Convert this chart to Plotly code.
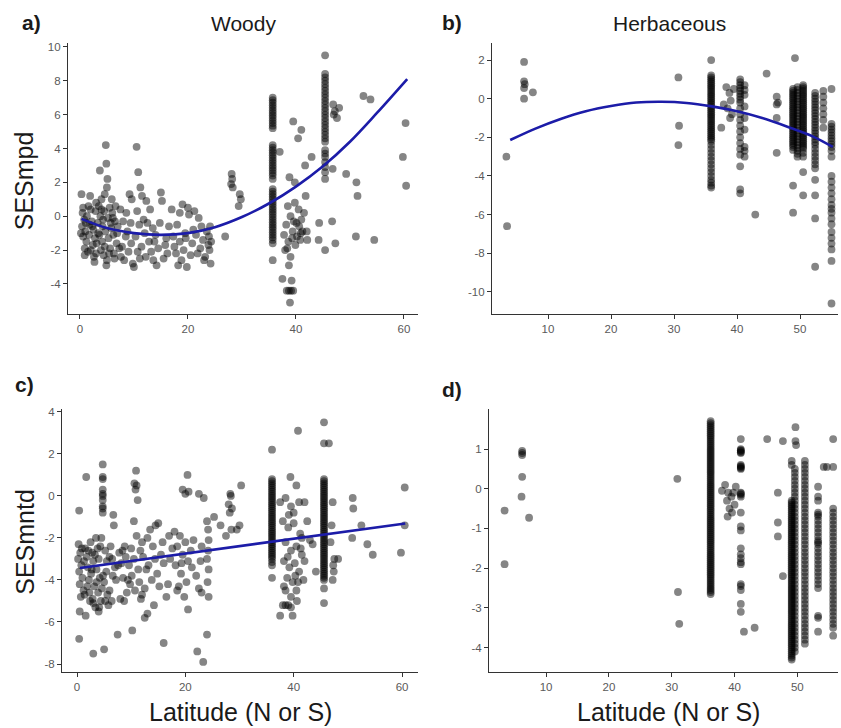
import plotly.graph_objects as go

# ---------------- Panel a: Woody, SESmpd ----------------
a_x = [0.3, 1.9, 0.5, 0.8, 0.4, 1.0, 0.6, 1.2, 0.9, 1.5, 2.0, 2.2, 2.5, 2.8, 2.4, 1.8, 3.0, 2.6, 1.3, 0.2,
       3.7, 4.9, 4.8, 5.1, 5.0, 4.6, 3.5, 4.0, 4.5, 5.5, 6.0, 3.8, 5.2, 6.5, 3.3, 4.2, 5.8, 4.7, 3.6, 6.2,
       5.3, 4.1, 6.8, 5.6, 3.9, 4.4, 6.4, 5.0, 7.0, 6.6,
       7.5, 8.0, 8.5, 7.8, 9.0, 8.2, 9.2, 9.6, 8.8, 9.5,
       10.5, 10.8, 11.2, 11.5, 10.6, 11.0, 10.3, 11.4, 10.7, 11.1, 10.0, 9.8, 11.8,
       15.0, 15.2, 13.0, 12.5, 13.5, 14.0, 12.8, 14.5, 13.2, 15.5, 14.2, 16.0, 16.5, 12.2, 15.8,
       17.0, 19.0, 20.0, 20.2, 18.0, 19.5, 18.5, 17.5, 19.2, 20.5, 18.8, 19.8, 17.8, 20.8, 18.2, 21.0,
       21.2, 22.0, 22.5, 23.5, 22.8, 23.8, 24.0, 23.2, 24.2, 23.9, 21.8,
       26.9, 28.1, 28.2, 28.0, 28.3, 29.6, 29.4, 29.8,
       37.0, 39.5, 40.4, 41.0, 38.8, 39.8, 38.5, 39.0, 39.8, 40.5, 41.0, 38.2, 39.4, 40.2, 38.6, 39.9,
       40.8, 38.0, 39.0, 38.7, 37.5, 39.2, 38.3, 38.7, 39.1, 39.5, 38.9, 40.6, 41.5, 37.8,
       41.7, 42.9, 41.8, 42.0, 42.1, 44.3, 44.2,
       46.9, 47.2, 47.6, 47.0, 46.8, 46.7, 47.3, 48.0,
       49.3, 51.2, 51.4, 51.1, 52.5, 53.8, 54.5,
       59.8, 60.3, 60.4,
       0.6, 1.1, 1.7, 2.3, 2.9, 3.4, 4.3, 5.7, 4.6, 3.1, 2.0, 5.4, 6.9, 7.3, 6.1, 3.0, 4.0, 5.9, 1.6, 0.9,
       2.7, 4.9, 6.3, 7.6, 8.6, 9.4, 12.0, 13.8, 14.8, 16.2, 17.3, 18.5, 19.6, 21.5, 22.3, 23.0, 24.3, 24.1,
       12.3, 13.6, 39.6, 40.9, 38.4, 40.1, 41.2, 39.3]
a_y = [1.3, 1.2, 0.2, -0.2, -0.6, -0.9, -1.2, -1.5, -1.9, -2.1, 0.4, -0.3, -0.8, -1.3, -1.7, -0.5, -2.2, -2.4, 0.0, -1.0,
       2.7, 3.1, 4.2, 2.2, 1.7, 1.3, 0.6, 0.4, 0.3, 0.5, 0.2, 0.0, -0.1, -0.3, -0.4, -0.6, -0.7, -0.9, -1.1, -1.1,
       -1.3, -1.5, -1.6, -1.9, -2.0, -2.3, -2.5, -2.6, -0.6, 0.6,
       0.4, -0.3, -1.2, -1.8, -2.1, -2.6, 1.3, 1.0, -0.9, -1.6,
       4.1, 2.6, 1.7, 1.2, 0.3, -0.5, -1.2, -1.8, -2.1, -2.5, -3.0, -2.8, -0.2,
       1.4, 0.9, 0.4, -0.4, -0.7, -1.1, -1.5, -1.9, -2.1, -2.5, -2.9, -1.3, -0.6, -2.4, -1.7,
       0.4, 0.7, 0.5, 0.1, -0.5, -1.0, -1.5, -1.8, -2.0, -2.3, -2.6, -3.0, -2.2, -1.6, -2.9, -0.8,
       0.3, -0.1, -0.6, -0.9, -1.4, -1.7, -2.0, -2.4, -2.8, -1.2, -2.2,
       -1.2, 2.5, 2.2, 1.9, 1.7, 1.3, 0.6, 1.0,
       3.8, 5.6, 4.6, 5.1, 2.3, 2.0, 0.6, 0.0, 0.8, 0.4, -0.2, -0.5, -0.9, -1.2, -1.5, -1.7,
       -1.4, -2.0, -2.4, -2.9, -3.7, -3.8, -4.4, -4.4, -4.4, -4.4, -5.1, -0.6, 0.2, -1.1,
       3.0, 3.5, 1.2, -0.9, -1.4, -0.4, -1.4,
       6.6, 6.2, 5.8, 6.0, 2.8, -0.3, -1.6, 6.4,
       2.5, 2.0, 1.2, -1.2, 7.1, 6.9, -1.4,
       3.5, 5.5, 1.8,
       0.5, -0.4, -1.1, -0.6, 0.3, -1.0, -0.2, -0.4, -1.8, -1.6, -2.0, -2.2, -1.0, -1.9, -0.1, 0.8, 1.0, 1.0, 0.6, -2.3,
       -2.7, -2.9, -2.2, -2.4, 0.2, -0.4, -1.0, -1.5, -0.4, -2.2, -1.2, 0.2, -1.3, -1.1, -1.9, -2.6, -1.5, -0.6,
       0.9, -2.6, -0.3, -1.0, -1.9, -0.4, -0.9, -1.3]
a_col36_lat = 35.7
a_col36_y = [7.0, 6.85, 6.7, 6.55, 6.4, 6.25, 6.1, 5.95, 5.8, 5.65, 5.5, 5.35, 5.2, 4.2, 4.05, 3.9, 3.75, 3.6,
             3.45, 3.3, 3.15, 3.0, 2.85, 2.7, 2.55, 2.4, 2.2, 1.6, 1.45, 1.3, 1.15, 1.0, 0.85, 0.7, 0.55, 0.4,
             0.25, 0.1, -0.05, -0.2, -0.35, -0.5, -0.65, -0.8, -0.95, -1.1, -1.25, -1.4, -1.6, -2.6]
a_col46_lat = 45.4
a_col46_y = [9.5, 8.4, 8.2, 8.0, 7.8, 7.6, 7.4, 7.2, 7.0, 6.8, 6.6, 6.4, 6.2, 6.0, 5.8, 5.6, 5.4, 5.2, 5.0, 4.8,
             4.6, 4.4, 3.9, 3.7, 3.5, 3.2, 2.9, 2.6, 2.2, -2.0]
a_fit_x = [0.3, 5, 10, 15, 20, 25, 30, 35, 40, 45, 50, 55, 60.6]
a_fit_y = [-0.16, -0.7, -1.0, -1.1, -1.0, -0.65, -0.05, 0.75, 1.75, 2.95, 4.4, 6.1, 8.1]

# ---------------- Panel b: Herbaceous, SESmpd ----------------
b_x = [3.4, 3.5, 6.2, 6.2, 6.3, 6.2, 6.2, 7.6, 30.7, 30.8, 30.7, 35.9,
       37.5, 38.3, 38.8, 39.0, 38.5, 39.2, 38.9, 37.9, 39.5,
       42.9, 44.7, 46.3, 46.3, 46.3, 46.3, 46.5, 49.2,
       53.7, 53.7, 53.7, 53.7, 53.7, 53.7, 53.7]
b_y = [-3.0, -6.6, 1.9, 0.9, 0.75, 0.55, 0.0, 0.33, 1.1, -1.4, -2.4, 2.0,
       -1.5, 0.6, 0.3, -0.1, -0.5, -0.8, -1.0, -0.3, 0.5,
       -6.0, 1.3, 0.1, -0.3, -1.0, -2.8, -0.2, 2.1,
       0.4, 0.1, -0.2, -0.5, -0.8, -1.1, -1.5]
b_col36_lat = 35.9
b_col36_y = [1.2, 1.1, 1.0, 0.9, 0.8, 0.7, 0.6, 0.5, 0.4, 0.3, 0.2, 0.1, 0.0, -0.1, -0.2, -0.3, -0.4, -0.5,
             -0.6, -0.7, -0.8, -0.9, -1.0, -1.1, -1.2, -1.3, -1.4, -1.5, -1.6, -1.7, -1.8, -1.9, -2.0, -2.1,
             -2.2, -2.4, -2.6, -2.8, -3.0, -3.2, -3.4, -3.6, -3.8, -4.0, -4.2, -4.35, -4.5, -4.6]
b_col40_lat = 40.5
b_col40_y = [1.0, 0.85, 0.7, 0.55, 0.4, 0.25, 0.1, -0.05, -0.2, -0.5, -0.8, -1.1, -1.4, -1.7, -2.0, -2.3,
             -2.6, -2.9, -3.5, -4.7, -4.9]
b_col41_lat = 41.2
b_col41_y = [0.7, 0.45, 0.2, -0.4, -1.0, -1.6, -2.5, -2.7, -3.0]
b_col49_lat = 48.9
b_col49_y = [0.5, 0.4, 0.3, 0.2, 0.1, 0.0, -0.1, -0.2, -0.3, -0.4, -0.5, -0.6, -0.7, -0.8, -0.9, -1.0,
             -1.1, -1.2, -1.3, -1.4, -1.5, -1.6, -1.7, -1.8, -1.9, -2.0, -2.1, -2.2, -2.3, -2.4, -2.5, -2.65,
             -4.5, -5.9]
b_col50_lat = 49.6
b_col50_y = [0.6, 0.45, 0.3, 0.15, 0.0, -0.15, -0.3, -0.45, -0.6, -0.75, -0.9, -1.05, -1.2, -1.35, -1.5,
             -1.65, -1.8, -1.95, -2.1, -2.25, -2.4, -2.55, -2.7, -2.85, -3.0]
b_col51_lat = 50.5
b_col51_y = [0.7, 0.6, 0.5, 0.4, 0.3, 0.2, 0.1, 0.0, -0.1, -0.2, -0.3, -0.4, -0.5, -0.6, -0.7, -0.8, -0.9,
             -1.0, -1.1, -1.2, -1.3, -1.4, -1.5, -1.6, -1.7, -1.8, -1.9, -2.0, -2.1, -2.2, -2.3, -2.4, -2.5,
             -2.6, -2.8, -3.0, -3.8, -5.0]
b_col52_lat = 52.4
b_col52_y = [0.3, 0.15, 0.0, -0.15, -0.3, -0.45, -0.6, -0.75, -0.9, -1.05, -1.2, -1.35, -1.5, -1.65, -1.8,
             -1.95, -2.1, -2.25, -2.4, -2.6, -2.8, -3.0, -3.2, -3.4, -3.6, -4.2, -5.0, -6.2, -8.7]
b_col55_lat = 55.0
b_col55_y = [0.5, -1.3, -1.45, -1.6, -1.75, -1.9, -2.05, -2.2, -2.35, -2.5, -2.7, -3.0, -4.0, -4.3, -4.6,
             -4.9, -5.2, -5.5, -5.7, -5.9, -6.2, -6.5, -6.9, -7.2, -7.5, -7.8, -8.4, -10.6]
b_fit_x = [4, 8, 12, 16, 20, 24, 28, 32, 36, 40, 44, 48, 52, 55.2]
b_fit_y = [-2.14, -1.55, -1.05, -0.65, -0.38, -0.2, -0.16, -0.22, -0.4, -0.65, -1.0, -1.45, -1.95, -2.5]

# ---------------- Panel c: Woody, SESmntd ----------------
c_x = [0.4, 1.7, 0.4, 0.5, 1.6, 3.0, 5.0,
       0.3, 0.6, 0.2, 0.8, 0.4, 1.0, 0.5, 1.2, 0.7, 1.5, 1.8, 2.0, 2.2, 1.4, 2.5, 2.8, 3.0, 2.6, 3.2, 2.9,
       3.5, 3.8, 4.0, 3.6, 4.2, 3.9, 4.4, 3.4, 4.1, 2.4,
       4.5, 5.2, 5.5, 4.8, 5.0, 5.6, 5.8, 4.6,
       6.7, 6.8, 7.5, 6.2, 6.5, 7.0, 7.2, 6.0, 7.8, 8.2, 8.5, 8.0, 8.8, 9.0, 9.2, 6.4,
       10.9, 10.6, 11.0, 10.8, 11.2, 10.5, 11.0, 10.2, 10.0, 10.5, 11.3, 10.1, 11.5, 9.8, 12.0, 12.2, 12.5, 11.8,
       13.5, 14.5, 15.0, 13.0, 14.0, 15.5, 13.2, 14.8, 16.0, 13.8, 15.2, 16.5, 14.2, 13.0, 12.5, 16.0, 17.0, 17.2, 16.8,
       20.4, 19.5, 20.0, 20.6, 18.0, 19.0, 20.0, 18.5, 19.5, 20.5, 18.2, 19.2, 20.2, 18.8, 19.8, 20.5, 21.0, 21.2, 18.5,
       22.2, 23.3, 24.0, 22.5, 23.4, 24.0, 24.2, 24.3, 24.2, 24.0, 24.3, 24.1, 24.3, 23.0, 22.5, 23.0, 22.0, 25.3, 26.5,
       28.3, 28.4, 28.0, 28.6, 28.2, 28.5, 27.5, 30.3, 29.5, 30.0,
       39.4, 40.8, 37.5, 38.5, 39.5, 40.5, 41.0, 38.0, 39.0, 40.0, 41.2, 42.0, 38.5, 39.5, 40.5, 41.5, 38.2, 39.2,
       40.2, 41.0, 42.0, 38.8, 39.8, 40.8, 41.8, 38.5, 39.5, 40.5, 38.0, 38.5, 39.0, 39.5, 37.5, 39.8, 42.5, 43.0,
       40.0, 41.5,
       44.1, 43.5, 46.5,
       47.2, 47.0, 47.5, 48.2, 47.3, 47.4, 47.2, 46.8,
       50.9, 51.0, 50.8, 52.5, 53.6, 54.6, 59.8, 60.5, 60.5,
       0.9, 1.3, 2.1, 2.7, 3.3, 1.9, 3.6, 4.3, 2.3, 5.4, 6.0, 6.6, 7.6, 8.4, 9.6, 9.4, 12.8, 11.7, 14.4, 15.8,
       17.6, 19.3, 21.5, 22.8, 3.0, 4.0, 5.2, 8.7, 10.7, 12.0, 38.9, 40.3, 41.3, 39.1, 40.6, 38.2]
c_y = [-0.7, 0.9, -6.8, -5.5, -5.7, -7.5, -7.3,
       -2.3, -2.7, -3.0, -3.3, -3.6, -3.9, -4.2, -4.5, -4.8, -2.5, -2.9, -3.4, -4.0, -4.7, -2.2, -2.7, -3.1, -3.7, -4.3, -4.9,
       -2.0, -2.5, -3.0, -3.5, -3.9, -4.6, -5.0, -5.3, -5.3, -5.0,
       -2.0, -2.6, -3.1, -3.8, -4.1, -4.7, -5.2, -4.4,
       -0.9, -1.4, -6.6, -2.4, -3.0, -3.4, -4.0, -4.5, -2.7, -3.2, -3.9, -4.9, -2.4, -2.9, -4.6, -5.0,
       1.2, 0.6, 0.5, 0.3, -0.2, -1.2, -1.9, -6.4, -2.5, -3.0, -3.5, -3.8, -4.1, -4.2, -2.2, -2.9, -4.4, -4.9,
       -1.6, -1.4, -1.3, -2.0, -2.4, -2.8, -3.3, -3.7, -3.2, -4.0, -4.3, -4.8, -5.2, -5.6, -5.8, -7.0, -1.9, -3.0, -4.2,
       1.0, 0.3, 0.1, 0.2, -1.7, -1.9, -2.2, -2.4, -2.8, -3.1, -3.3, -3.7, -4.1, -4.3, -4.8, -5.4, -2.6, -3.4, -4.5,
       -7.4, -7.9, -6.6, 0.1, -0.1, -1.2, -1.6, -2.1, -2.6, -3.0, -3.5, -4.1, -4.8, -2.4, -4.4, -4.6, -3.8, -1.0, -1.4,
       0.1, 0.0, -0.4, -0.6, -0.8, -1.6, -1.9, 0.5, -1.6, -1.4,
       0.9, 3.1, -0.3, -0.1, -0.5, 0.5, -0.3, -1.2, -1.5, -1.3, -1.8, -0.3, -2.2, -2.6, -2.4, -2.8, -3.1, -3.4,
       -3.2, -3.6, -3.1, -3.9, -4.1, -4.1, -4.0, -4.5, -4.8, -4.5, -5.2, -5.2, -5.2, -5.3, -5.7, -5.7, -1.2, -2.1,
       -0.8, -2.0,
       -3.6, -2.3, 2.5,
       -0.3, -1.4, -3.0, -3.0, -3.3, -3.6, -4.0, -2.2,
       -0.1, -0.6, -2.0, -1.4, -2.3, -2.8, -2.7, 0.4, -1.4,
       -2.5, -3.1, -2.6, -3.5, -2.8, -4.3, -4.1, -2.4, -4.6, -3.6, -2.9, -3.8, -3.3, -2.6, -3.3, -4.0, -3.5, -2.6, -3.0, -2.2,
       -2.5, -3.2, -2.1, -3.1, -5.1, -5.5, -5.0, -5.0, -4.5, -4.7, -2.9, -3.8, -2.5, -0.9, -5.0, -4.3]
c_col5_lat = 4.75
c_col5_y = [1.5, 0.9, 0.8, 0.3, 0.1, 0.0, -0.2, -0.5, -0.6, -0.8]
c_col36_lat = 36.0
c_col36_y = [2.2, 0.8, 0.7, 0.6, 0.5, 0.4, 0.3, 0.2, 0.1, 0.0, -0.1, -0.2, -0.3, -0.4, -0.5, -0.6, -0.7,
             -0.8, -0.9, -1.0, -1.1, -1.2, -1.3, -1.4, -1.5, -1.6, -1.7, -1.8, -1.9, -2.0, -2.1, -2.2, -2.3,
             -2.4, -2.5, -2.6, -2.7, -2.8, -2.9, -3.0, -3.15, -3.3, -3.9]
c_col46_lat = 45.6
c_col46_y = [3.5, 2.5, 0.8, 0.7, 0.6, 0.5, 0.4, 0.3, 0.2, 0.1, 0.0, -0.1, -0.2, -0.3, -0.4, -0.5, -0.6,
             -0.7, -0.8, -0.9, -1.0, -1.1, -1.2, -1.3, -1.4, -1.5, -1.6, -1.7, -1.8, -1.9, -2.0, -2.1, -2.2,
             -2.3, -2.4, -2.5, -2.6, -2.7, -2.8, -2.9, -3.0, -3.1, -3.2, -3.3, -3.4, -3.5, -3.6, -3.7, -3.8,
             -3.9, -4.0, -4.4, -5.1]
c_fit_x = [0.55, 60.6]
c_fit_y = [-3.43, -1.31]

# ---------------- Panel d: Herbaceous, SESmntd ----------------
d_x = [3.4, 3.4, 6.2, 6.2, 6.2, 6.2, 6.1, 7.3, 30.9, 31.0, 31.2,
       38.5, 39.0, 38.0, 39.5, 38.8, 39.2, 39.6, 38.9, 40.0, 39.8, 40.2,
       41.5, 43.2, 45.2, 46.9, 46.9, 46.9, 47.7, 47.7, 49.7, 49.7, 49.8,
       54.2, 54.7, 55.7, 55.7]
d_y = [-0.55, -1.9, 0.95, 0.9, 0.85, 0.3, -0.2, -0.73, 0.25, -2.6, -3.4,
       0.1, -0.1, -0.05, -0.2, -0.3, -0.5, -0.6, -0.7, -0.4, -0.1, 0.05,
       -3.6, -3.5, 1.25, -0.1, -0.85, -1.2, 1.2, -2.2, 1.55, 1.2, 1.1,
       0.55, 0.55, 1.25, 0.55]
d_col36_lat = 36.2
d_col36_y = [1.7, 1.65, 1.6, 1.55, 1.5, 1.45, 1.4, 1.35, 1.3, 1.25, 1.2, 1.15, 1.1, 1.05, 1.0, 0.95, 0.9, 0.85,
             0.8, 0.75, 0.7, 0.65, 0.6, 0.55, 0.5, 0.45, 0.4, 0.35, 0.3, 0.25, 0.2, 0.15, 0.1, 0.05, 0.0, -0.05,
             -0.1, -0.15, -0.2, -0.25, -0.3, -0.35, -0.4, -0.45, -0.5, -0.55, -0.6, -0.65, -0.7, -0.75, -0.8,
             -0.85, -0.9, -0.95, -1.0, -1.05, -1.1, -1.15, -1.2, -1.25, -1.3, -1.35, -1.4, -1.45, -1.5, -1.55,
             -1.6, -1.65, -1.7, -1.75, -1.8, -1.85, -1.9, -1.95, -2.0, -2.05, -2.1, -2.15, -2.2, -2.25, -2.3,
             -2.35, -2.4, -2.45, -2.5, -2.55, -2.6, -2.65]
d_col41_lat = 41.0
d_col41_y = [1.25, 1.0, 0.97, 0.95, 0.92, 0.9, 0.6, 0.57, 0.55, 0.52, 0.5, -0.1, -0.12, -0.15, -0.2, -0.6,
             -0.95, -1.05, -1.5, -1.65, -1.75, -1.85, -1.9, -2.4, -2.45, -2.55, -2.9, -3.1]
d_col49a_lat = 49.1
d_col49a_y = [0.7, 0.6, -0.3, -0.35, -0.4, -0.45, -0.5, -0.55, -0.6, -0.65, -0.7, -0.75, -0.8, -0.85, -0.9,
              -0.95, -1.0, -1.05, -1.1, -1.15, -1.2, -1.25, -1.3, -1.35, -1.4, -1.45, -1.5, -1.55, -1.6, -1.65,
              -1.7, -1.75, -1.8, -1.85, -1.9, -1.95, -2.0, -2.05, -2.1, -2.15, -2.2, -2.25, -2.3, -2.35, -2.4,
              -2.45, -2.5, -2.55, -2.6, -2.65, -2.7, -2.75, -2.8, -2.85, -2.9, -2.95, -3.0, -3.05, -3.1, -3.15,
              -3.2, -3.25, -3.3, -3.35, -3.4, -3.45, -3.5, -3.55, -3.6, -3.65, -3.7, -3.75, -3.8, -3.85, -3.9,
              -3.95, -4.0, -4.05, -4.1, -4.15, -4.2, -4.25, -4.3]
d_col49b_lat = 49.6
d_col49b_y = [0.5, 0.4, 0.3, 0.2, 0.1, 0.0, -0.1, -0.2, -0.3, -0.4, -0.5, -0.6, -0.7, -0.8, -0.9, -1.0,
              -1.1, -1.2, -1.3, -1.4, -1.5, -1.6, -1.7, -1.8, -1.9, -2.0, -2.1, -2.2, -2.3, -2.4, -2.5, -2.6,
              -2.7, -2.8, -2.9, -3.0, -3.1, -3.2, -3.3, -3.4, -3.5, -3.6, -3.7, -3.8, -3.9, -4.0, -4.1]
d_col51_lat = 51.2
d_col51_y = [0.7, 0.6, 0.5, 0.4, 0.3, 0.2, 0.1, 0.0, -0.1, -0.2, -0.3, -0.4, -0.5, -0.6, -0.7, -0.8, -0.9,
             -1.0, -1.1, -1.2, -1.3, -1.4, -1.5, -1.6, -1.7, -1.8, -1.9, -2.0, -2.1, -2.2, -2.3, -2.4, -2.5,
             -2.6, -2.7, -2.8, -2.9, -3.0, -3.1, -3.2, -3.3, -3.4, -3.5, -3.6, -3.7, -3.8, -3.9]
d_col53_lat = 53.3
d_col53_y = [0.05, -0.2, -0.3, -0.6, -0.65, -0.7, -0.8, -0.9, -1.0, -1.1, -1.2, -1.3, -1.35, -1.4, -1.5,
             -1.6, -1.7, -1.8, -1.9, -2.0, -2.1, -2.2, -2.3, -2.4, -2.5, -3.2, -3.25, -3.6]
d_col55_lat = 55.7
d_col55_y = [-0.5, -0.6, -0.7, -0.8, -0.9, -1.0, -1.1, -1.2, -1.3, -1.4, -1.5, -1.6, -1.7, -1.8, -1.9,
             -2.0, -2.1, -2.2, -2.3, -2.4, -2.5, -2.6, -2.7, -2.8, -2.9, -3.0, -3.1, -3.2, -3.3, -3.4,
             -3.5, -3.7]

# ---------------- Tick labels ----------------
a_xticks = [0, 20, 40, 60]
a_yticks = [-4, -2, 0, 2, 4, 6, 8, 10]
b_xticks = [10, 20, 30, 40, 50]
b_yticks = [-10, -8, -6, -4, -2, 0, 2]
c_xticks = [0, 20, 40, 60]
c_yticks = [-8, -6, -4, -2, 0, 2, 4]
d_xticks = [10, 20, 30, 40, 50]
d_yticks = [-4, -3, -2, -1, 0, 1]

W, H = 841, 728
FONT = "Liberation Sans, Arial, sans-serif"
PT_COLOR = "rgba(0,0,0,0.48)"
LINE_COLOR = "#1c1ca8"


def expand(scat_x, scat_y, cols):
    xs = list(scat_x)
    ys = list(scat_y)
    for lat, vals in cols:
        xs += [lat] * len(vals)
        ys += list(vals)
    return xs, ys


panels = [
    ("x", "y", expand(a_x, a_y, [(a_col36_lat, a_col36_y), (a_col46_lat, a_col46_y)]), (a_fit_x, a_fit_y)),
    ("x2", "y2", expand(b_x, b_y, [(b_col36_lat, b_col36_y), (b_col40_lat, b_col40_y), (b_col41_lat, b_col41_y),
                                    (b_col49_lat, b_col49_y), (b_col50_lat, b_col50_y), (b_col51_lat, b_col51_y),
                                    (b_col52_lat, b_col52_y), (b_col55_lat, b_col55_y)]), (b_fit_x, b_fit_y)),
    ("x3", "y3", expand(c_x, c_y, [(c_col5_lat, c_col5_y), (c_col36_lat, c_col36_y), (c_col46_lat, c_col46_y)]),
     (c_fit_x, c_fit_y)),
    ("x4", "y4", expand(d_x, d_y, [(d_col36_lat, d_col36_y), (d_col41_lat, d_col41_y), (d_col49a_lat, d_col49a_y),
                                    (d_col49b_lat, d_col49b_y), (d_col51_lat, d_col51_y), (d_col53_lat, d_col53_y),
                                    (d_col55_lat, d_col55_y)]), None),
]

fig = go.Figure()
for xa, ya, (px_, py_), fit in panels:
    fig.add_trace(go.Scatter(x=px_, y=py_, mode="markers", xaxis=xa, yaxis=ya, showlegend=False,
                             marker=dict(size=7.8, color=PT_COLOR, line=dict(width=0)),
                             hoverinfo="skip"))
    if fit is not None:
        fig.add_trace(go.Scatter(x=fit[0], y=fit[1], mode="lines", xaxis=xa, yaxis=ya, showlegend=False,
                                 line=dict(color=LINE_COLOR, width=2.6, shape="spline", smoothing=1.0),
                                 hoverinfo="skip"))


def px2fx(p):
    return p / W


def py2fy(p):
    return 1 - p / H


def axis(domain, rng, ticks, anchor):
    return dict(domain=domain, range=rng, tickvals=ticks, ticktext=[str(t) for t in ticks],
                showgrid=False, zeroline=False, showline=True, linecolor="#333333", linewidth=1.1,
                ticks="outside", ticklen=4, tickcolor="#333333", tickwidth=1,
                tickfont=dict(family=FONT, size=11.5, color="#5a5a5a"), anchor=anchor)


top_dom = [py2fy(312), py2fy(40)]
bot_dom = [py2fy(672), py2fy(408)]

fig.update_layout(
    width=W, height=H, margin=dict(l=0, r=0, t=0, b=0),
    paper_bgcolor="white", plot_bgcolor="white",
    xaxis=axis([px2fx(68), px2fx(418)], [-2.2, 62.6], a_xticks, "y"),
    yaxis=axis(top_dom, [-5.76, 10.24], a_yticks, "x"),
    xaxis2=axis([px2fx(492), px2fx(838)], [1.11, 56.03], b_xticks, "y2"),
    yaxis2=axis(top_dom, [-11.13, 2.89], b_yticks, "x2"),
    xaxis3=axis([px2fx(62), px2fx(418)], [-2.77, 62.95], c_xticks, "y3"),
    yaxis3=axis(bot_dom, [-8.39, 4.12], c_yticks, "x3"),
    xaxis4=axis([px2fx(489), px2fx(838)], [0.92, 56.47], d_xticks, "y4"),
    yaxis4=axis(bot_dom, [-4.62, 2.0], d_yticks, "x4"),
)

annots = [
    ("a)", 32, 20, 21, True, 0), ("b)", 452, 20, 21, True, 0),
    ("c)", 24, 383, 21, True, 0), ("d)", 452, 388, 21, True, 0),
    ("Woody", 243, 21, 21, False, 0), ("Herbaceous", 669, 21, 21, False, 0),
    ("SESmpd", 24, 179, 25, False, -90), ("SESmntd", 25, 541, 25, False, -90),
    ("Latitude (N or S)", 241, 712, 25, False, 0), ("Latitude (N or S)", 668, 712, 25, False, 0),
]
for text, x, y, size, bold, ang in annots:
    fig.add_annotation(text=f"<b>{text}</b>" if bold else text, x=px2fx(x), y=py2fy(y),
                       xref="paper", yref="paper", showarrow=False, textangle=ang,
                       xanchor="center", yanchor="middle",
                       font=dict(family=FONT, size=size, color="#1a1a1a"))

fig.write_html("out.html", config={"displayModeBar": False},
               post_script="document.body.style.margin='0';document.body.style.overflow='hidden';")
